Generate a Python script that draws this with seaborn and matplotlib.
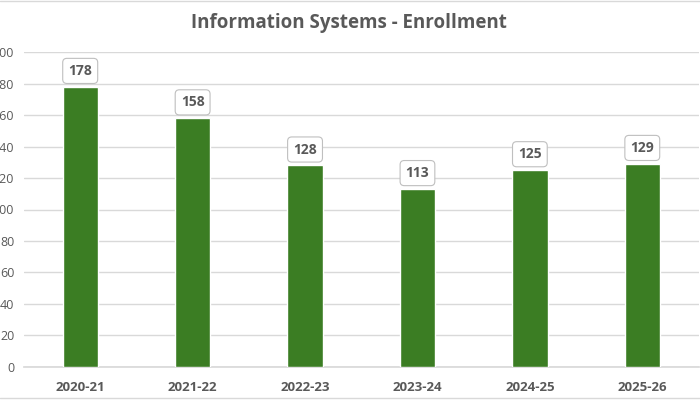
import matplotlib
matplotlib.use("Agg")
import matplotlib.pyplot as plt
import seaborn as sns
import pandas as pd
from matplotlib.lines import Line2D

years = ["2020-21", "2021-22", "2022-23", "2023-24", "2024-25", "2025-26"]
enrollment = [178, 158, 128, 113, 125, 129]

df = pd.DataFrame({"year": years, "enrollment": enrollment})

sns.set_theme(style="white")
plt.rcParams["font.family"] = ["Open Sans", "DejaVu Sans"]

text_grey = "#595959"
bar_green = "#3B7D23"

fig = plt.figure(figsize=(7, 4), dpi=100)
ax = fig.add_axes([24 / 700, 1 - 366.7 / 400, (698.5 - 24) / 700, (366.7 - 52.3) / 400])

sns.barplot(data=df, x="year", y="enrollment", color=bar_green, width=0.315,
            saturation=1, ax=ax, zorder=3)

ax.set_ylim(0, 200)
ax.set_yticks(range(0, 201, 20))
ax.yaxis.grid(True, color="#D9D9D9", linewidth=1, zorder=0)
ax.set_axisbelow(True)
for s in ["top", "right", "left"]:
    ax.spines[s].set_visible(False)
ax.spines["bottom"].set_color("#D9D9D9")
ax.set_xlabel("")
ax.set_ylabel("")
# y labels run off the left edge, as in the reference
ax.tick_params(axis="y", length=0, pad=7, labelsize=9, labelcolor=text_grey)
ax.tick_params(axis="x", length=0, pad=10, labelsize=9.5, labelcolor=text_grey)
for lbl in ax.get_xticklabels():
    lbl.set_fontweight("bold")

for i, v in enumerate(enrollment):
    ax.annotate(str(v), (i, v), xytext=(0, 11.5), textcoords="offset points",
                ha="center", va="center", fontsize=10, fontweight="bold",
                color=text_grey,
                bbox=dict(boxstyle="round,pad=0.4,rounding_size=0.3",
                          fc="white", ec="#BFBFBF", lw=0.8))

fig.text(0.499, 1 - 23 / 400, "Information Systems - Enrollment",
         ha="center", va="center", fontsize=13.5, fontweight="bold", color=text_grey)

fig.add_artist(Line2D([0, 1], [0.998, 0.998], color="#D9D9D9", lw=1))
fig.add_artist(Line2D([0, 1], [0.006, 0.006], color="#D9D9D9", lw=1))

fig.savefig("out.png", dpi=100)
